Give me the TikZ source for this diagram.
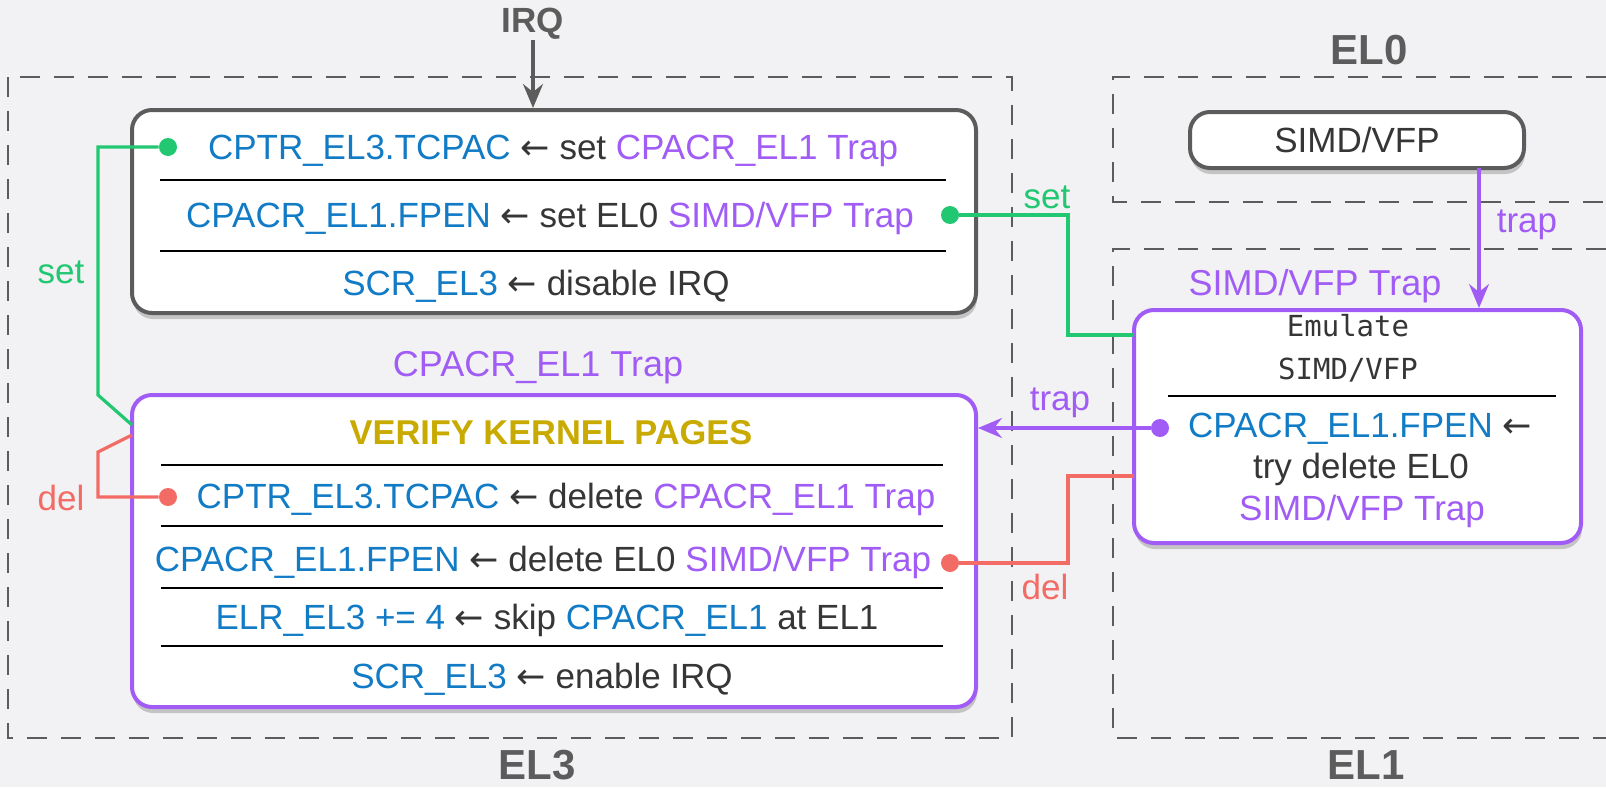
\documentclass[tikz,border=0pt]{standalone}
\usepackage{fontspec}
\setmainfont{Liberation Sans}
\setmonofont{DejaVu Sans Mono}
\newfontfamily\arrowfont{DejaVu Sans}
\usetikzlibrary{arrows.meta,shadows,positioning}

\definecolor{bgc}{HTML}{F2F2F4}
\definecolor{elblue}{HTML}{127BC6}
\definecolor{trappurple}{HTML}{A05CF5}
\definecolor{setgreen}{HTML}{22C772}
\definecolor{delred}{HTML}{F26B64}
\definecolor{verifygold}{HTML}{C9AA00}
\definecolor{txtgray}{HTML}{363636}
\definecolor{framegray}{HTML}{5C5C5C}

\def\reg#1{{\color{elblue}#1}}
\def\trp#1{{\color{trappurple}#1}}
\def\lar{{\arrowfont ←}}

\begin{document}
\begin{tikzpicture}[x=0.5pt,y=-0.5pt,
  font=\fontsize{17.5}{21}\selectfont,
  every node/.style={text=txtgray},
  elbox/.style={draw=framegray, dash pattern=on 10pt off 7pt, line width=1pt},
  state/.style={draw=framegray, fill=white, rounded corners=10pt, line width=2pt,
    drop shadow={shadow xshift=0.5pt, shadow yshift=-3pt, opacity=0.4}},
  trapstate/.style={state, draw=trappurple},
  sep/.style={line width=1.1pt, black},
  link/.style={line width=1.6pt},
  dot/.style={circle, inner sep=0pt, minimum size=9pt},
  lbl/.style={font=\fontsize{17.5}{21}\selectfont},
  title/.style={font=\fontsize{21}{24}\selectfont\bfseries, text=framegray, inner sep=0pt},
  tip/.style={-{Stealth[length=12pt,width=10pt,inset=4pt]}}]
\fill[bgc] (0,0) rectangle (1606,787);%
\useasboundingbox (0,0) rectangle (1606,787);%

% exception levels
\draw[elbox] (8,77) rectangle (1012,738);%
\draw[elbox] (1606,77) -| (1113,202) -- (1606,202);%
\draw[elbox] (1606,249) -| (1113,738) -- (1606,738);%
\node[title] (el3) at (537,765) {EL3};%
\node[title] (el0) at (1369,50) {EL0};%
\node[title] (el1) at (1366,765) {EL1};%
\node[title, font=\fontsize{17.5}{21}\selectfont\bfseries] (irq) at (533,24) {IRQ};%

% EL3 boxes
\node[state, minimum width=422pt, minimum height=101.5pt] (cfg) at (554,211.5) {};%
\node[trapstate, minimum width=422pt, minimum height=156pt] (verify) at (554,551) {};%
\node[text=trappurple, font=\fontsize{18}{21}\selectfont] (cpacrtrap) at (538,368) {CPACR\_EL1 Trap};%

\node (cfgA) at (553,151) {\reg{CPTR\_EL3.TCPAC} \lar{} set \trp{CPACR\_EL1 Trap}};%
\node (cfgB) at (550,218) {\reg{CPACR\_EL1.FPEN} \lar{} set EL0 \trp{SIMD/VFP Trap}};%
\node (cfgC) at (536,286) {\reg{SCR\_EL3} \lar{} disable IRQ};%
\foreach \y in {180,251}%
  \draw[sep] (160,\y) -- (946,\y);%

\node[text=verifygold, font=\fontsize{17.2}{20}\selectfont\bfseries] (verA) at (551,433) {VERIFY KERNEL PAGES};%
\node (verB) at (566,499) {\reg{CPTR\_EL3.TCPAC} \lar{} delete \trp{CPACR\_EL1 Trap}};%
\node (verC) at (543,562) {\reg{CPACR\_EL1.FPEN} \lar{} delete EL0 \trp{SIMD/VFP Trap}};%
\node (verD) at (547,620) {\reg{ELR\_EL3 += 4} \lar{} skip \reg{CPACR\_EL1} at EL1};%
\node (verE) at (542,679) {\reg{SCR\_EL3} \lar{} enable IRQ};%
\foreach \y in {465,526,588,646}%
  \draw[sep] (161,\y) -- (943,\y);%

% EL0 / EL1 boxes
\node[state, minimum width=167pt, minimum height=28pt] (simd0) at (1357,140) {SIMD/VFP};%
\node[trapstate, minimum width=223.5pt, minimum height=116.5pt] (emu) at (1357.5,426.5) {};%
\node[text=trappurple, font=\fontsize{18}{21}\selectfont] (simdtrap) at (1315,286) {SIMD/VFP Trap};%
\node[font=\ttfamily\fontsize{14.5}{21.5}\selectfont, align=center] (emuA) at (1348,348) {Emulate\\SIMD/VFP};%
\draw[sep] (1168,396) -- (1556,396);%
\node (emuB) at (1360,429) {\reg{CPACR\_EL1.FPEN} \lar};%
\node (emuC) at (1361,469) {try delete EL0};%
\node (emuD) at (1362,511) {\trp{SIMD/VFP Trap}};%

% set / del links
\node[dot, fill=setgreen] (setA) at (168,147) {};%
\node[dot, fill=setgreen] (setB) at (950,215) {};%
\node[dot, fill=delred] (delA) at (168,497) {};%
\node[dot, fill=delred] (delB) at (950,563) {};%
\node[dot, fill=trappurple] (trapB) at (1160,428) {};%
\coordinate (setAin) at (132,425);%
\coordinate (delAin) at (132,435);%
\coordinate (setBin) at (1134,335);%
\coordinate (delBin) at (1134,476);%
\coordinate (trapA) at (1479,168);%

\draw[link, setgreen] (setA) -- (98,147) -- (98,395) -- (setAin);%
\draw[link, delred] (delA) -- (98,497) -- (98,452) -- (delAin);%
\draw[link, setgreen] (setB) -- (1068,215) -- (1068,335) -- (setBin);%
\draw[link, delred] (delB) -- (1068,563) -- (1068,476) -- (delBin);%
\draw[link, tip, trappurple] (trapB) -- (trapB -| verify.east);%
\draw[link, tip, trappurple] (trapA) -- (trapA |- emu.north);%
\draw[link, tip, framegray] (irq) -- (irq |- cfg.north);%

\node[lbl, text=setgreen] (setAlbl) at (61,272) {set};%
\node[lbl, text=delred] (delAlbl) at (61,498) {del};%
\node[lbl, text=setgreen] (setBlbl) at (1047,197) {set};%
\node[lbl, text=delred] (delBlbl) at (1045,587) {del};%
\node[lbl, text=trappurple] (trapBlbl) at (1060,403) {trap};%
\node[lbl, text=trappurple] (trapAlbl) at (1527,225) {trap};%
\end{tikzpicture}
\end{document}
